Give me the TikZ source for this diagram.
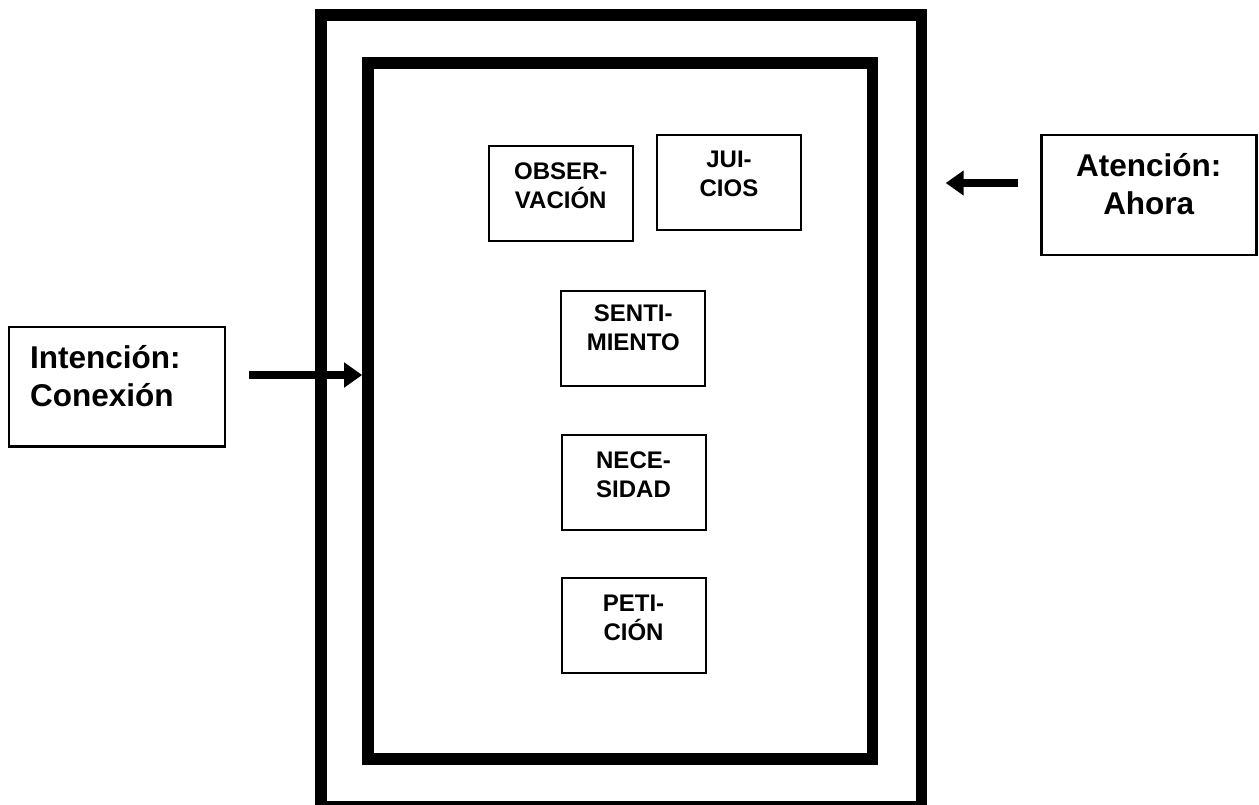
\documentclass[tikz,border=0pt]{standalone}
\usepackage{fontspec}
\setmainfont{Liberation Sans}
\usetikzlibrary{arrows.meta}
\begin{document}
\begin{tikzpicture}[x=1pt,y=-1pt,
  frame/.style={draw=black, rectangle, line width=11.6pt, inner sep=0pt},
  smallbox/.style={draw=black, rectangle, line width=2pt, inner sep=0pt, minimum width=144pt, minimum height=95pt},
  smalltext/.style={inner sep=0pt, align=center, font=\bfseries\fontsize{24}{29}\selectfont},
  sidebox/.style={draw=black, rectangle, line width=2.5pt, inner sep=0pt, minimum width=215pt, minimum height=120pt},
  bigtext/.style={inner sep=0pt, font=\bfseries\fontsize{31.5}{38.3}\selectfont},
  arrowline/.style={line width=8.5pt, -{Triangle[length=18pt,width=24pt]}}
]
\clip (0,0) rectangle (1259,805);
% frames
\node[frame, minimum width=600.5pt, minimum height=792pt] (outer) at (621.25,411) {};
\node[frame, minimum width=504.5pt, minimum height=696pt] (inner) at (620.25,411) {};
% small boxes
\node[smallbox] (obs) at (560.75,194) {};
\node[smalltext] (obst) at (560.75,186) {OBSER-\\VACIÓN};
\node[smallbox] (jui) at (729,183) {};
\node[smalltext] (juit) at (729,174) {JUI-\\CIOS};
\node[smallbox] (sen) at (633.25,338.25) {};
\node[smalltext] (sent) at (633.25,328) {SENTI-\\MIENTO};
\node[smallbox] (nec) at (633.5,482) {};
\node[smalltext] (nect) at (633.5,474.5) {NECE-\\SIDAD};
\node[smallbox] (pet) at (633.5,625.5) {};
\node[smalltext] (pett) at (633.5,618) {PETI-\\CIÓN};
% side boxes
\node[sidebox] (ate) at (1148.75,195) {};
\node[bigtext, align=center] (atet) at (1148.75,184) {Atención:\\Ahora};
\node[sidebox, minimum width=216pt, minimum height=119.5pt] (int) at (117,386.75) {};
\node[bigtext, align=left, anchor=west] (intt) at (30,375.8) {Intención:\\Conexión};
% arrows
\coordinate (ls) at (249,375);
\draw[arrowline] (ls) -- (inner.west |- ls);
\coordinate (rs) at (1017.5,183);
\coordinate (re) at ([xshift=18.4pt]outer.east |- rs);
\draw[arrowline] (rs) -- (re);
\end{tikzpicture}
\end{document}
